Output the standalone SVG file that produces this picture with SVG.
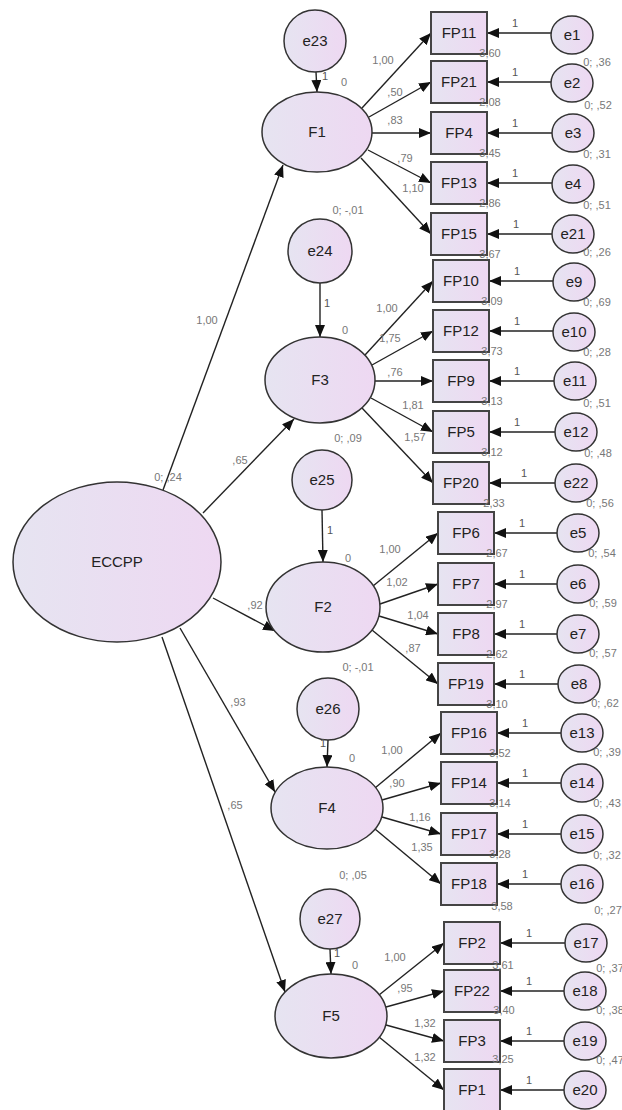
<svg xmlns="http://www.w3.org/2000/svg" width="622" height="1110" viewBox="0 0 622 1110">
<defs>
<linearGradient id="g" x1="0" y1="0" x2="1" y2="0">
<stop offset="0" stop-color="#e6e4f1"/>
<stop offset="1" stop-color="#eed8f2"/>
</linearGradient>
<marker id="ah" viewBox="0 0 12 10" refX="12" refY="5" markerWidth="12" markerHeight="10" markerUnits="userSpaceOnUse" orient="auto">
<path d="M0,0 L12,5 L0,10 z" fill="#111"/>
</marker>
</defs>
<style>
.n ellipse,.n circle{fill:url(#g);stroke:#333;stroke-width:1.5}
.n rect{fill:url(#g);stroke:#444;stroke-width:2}
.n text{font-family:"Liberation Sans",Arial,sans-serif;font-size:15px;fill:#222;text-anchor:middle}
.c line{stroke:#222;stroke-width:1.4;marker-end:url(#ah)}
.l text{font-family:"Liberation Sans",Arial,sans-serif;font-size:11px;fill:#777;text-anchor:middle}
.l text.k{fill:#555}
</style>
<rect width="622" height="1110" fill="#fff"/>

<g id="connectors" class="c">
<line x1="163" y1="490" x2="283" y2="165"/>
<line x1="203" y1="513" x2="294" y2="419"/>
<line x1="213" y1="598" x2="275" y2="631"/>
<line x1="180" y1="628" x2="275" y2="792"/>
<line x1="162" y1="637" x2="285" y2="992"/>
<line x1="316" y1="72" x2="317" y2="92"/>
<line x1="320" y1="283" x2="320" y2="337"/>
<line x1="322" y1="510" x2="323" y2="562"/>
<line x1="328" y1="740" x2="327" y2="767"/>
<line x1="330" y1="949" x2="331" y2="974"/>
<line x1="362" y1="108" x2="431" y2="33"/>
<line x1="369" y1="117" x2="431" y2="82"/>
<line x1="372" y1="133" x2="431" y2="133"/>
<line x1="368" y1="150" x2="431" y2="183"/>
<line x1="361" y1="158" x2="431" y2="234"/>
<line x1="365" y1="355" x2="433" y2="281"/>
<line x1="372" y1="365" x2="433" y2="331"/>
<line x1="375" y1="381" x2="433" y2="381"/>
<line x1="371" y1="398" x2="433" y2="432"/>
<line x1="362" y1="408" x2="433" y2="483"/>
<line x1="373" y1="586" x2="438" y2="533"/>
<line x1="380" y1="604" x2="438" y2="584"/>
<line x1="379" y1="616" x2="438" y2="634"/>
<line x1="372" y1="630" x2="438" y2="684"/>
<line x1="375" y1="788" x2="441" y2="733"/>
<line x1="382" y1="800" x2="441" y2="783"/>
<line x1="382" y1="817" x2="441" y2="834"/>
<line x1="375" y1="829" x2="441" y2="884"/>
<line x1="379" y1="995" x2="444" y2="943"/>
<line x1="386" y1="1007" x2="444" y2="991"/>
<line x1="386" y1="1025" x2="444" y2="1041"/>
<line x1="379" y1="1037" x2="444" y2="1090"/>
<line x1="551" y1="33" x2="487" y2="33"/>
<line x1="551" y1="82" x2="487" y2="82"/>
<line x1="552" y1="133" x2="487" y2="133"/>
<line x1="552" y1="183" x2="487" y2="183"/>
<line x1="552" y1="234" x2="487" y2="234"/>
<line x1="553" y1="281" x2="489" y2="281"/>
<line x1="553" y1="331" x2="489" y2="331"/>
<line x1="554" y1="381" x2="489" y2="381"/>
<line x1="555" y1="432" x2="489" y2="432"/>
<line x1="555" y1="483" x2="489" y2="483"/>
<line x1="557" y1="533" x2="494" y2="533"/>
<line x1="557" y1="584" x2="494" y2="584"/>
<line x1="557" y1="634" x2="494" y2="634"/>
<line x1="558" y1="684" x2="494" y2="684"/>
<line x1="561" y1="733" x2="497" y2="733"/>
<line x1="561" y1="783" x2="497" y2="783"/>
<line x1="561" y1="834" x2="497" y2="834"/>
<line x1="561" y1="884" x2="497" y2="884"/>
<line x1="565" y1="943" x2="500" y2="943"/>
<line x1="564" y1="991" x2="500" y2="991"/>
<line x1="564" y1="1041" x2="500" y2="1041"/>
<line x1="564" y1="1090" x2="500" y2="1090"/>
</g>

<g id="ECCPP" class="n"><ellipse cx="117" cy="562" rx="104" ry="80"/><text x="117" y="567">ECCPP</text></g>
<g id="F1" class="n"><ellipse cx="317" cy="132" rx="55" ry="40"/><text x="317" y="137">F1</text></g>
<g id="F3" class="n"><ellipse cx="320" cy="380" rx="55" ry="43"/><text x="320" y="385">F3</text></g>
<g id="F2" class="n"><ellipse cx="323" cy="607" rx="57" ry="45"/><text x="323" y="612">F2</text></g>
<g id="F4" class="n"><ellipse cx="327" cy="808" rx="56" ry="41"/><text x="327" y="813">F4</text></g>
<g id="F5" class="n"><ellipse cx="331" cy="1016" rx="56" ry="42"/><text x="331" y="1021">F5</text></g>
<g id="e23" class="n"><circle cx="315" cy="41" r="31"/><text x="315" y="46">e23</text></g>
<g id="e24" class="n"><circle cx="320" cy="251" r="32"/><text x="320" y="256">e24</text></g>
<g id="e25" class="n"><circle cx="322" cy="480" r="30"/><text x="322" y="485">e25</text></g>
<g id="e26" class="n"><circle cx="328" cy="709" r="31"/><text x="328" y="714">e26</text></g>
<g id="e27" class="n"><circle cx="330" cy="919" r="30"/><text x="330" y="924">e27</text></g>

<g id="FP11" class="n"><rect x="431" y="12" width="56" height="42"/><text x="459" y="38">FP11</text></g>
<g id="FP21" class="n"><rect x="431" y="61" width="56" height="42"/><text x="459" y="87">FP21</text></g>
<g id="FP4" class="n"><rect x="431" y="112" width="56" height="42"/><text x="459" y="138">FP4</text></g>
<g id="FP13" class="n"><rect x="431" y="162" width="56" height="42"/><text x="459" y="188">FP13</text></g>
<g id="FP15" class="n"><rect x="431" y="213" width="56" height="42"/><text x="459" y="239">FP15</text></g>
<g id="FP10" class="n"><rect x="433" y="260" width="56" height="42"/><text x="461" y="286">FP10</text></g>
<g id="FP12" class="n"><rect x="433" y="310" width="56" height="42"/><text x="461" y="336">FP12</text></g>
<g id="FP9" class="n"><rect x="433" y="360" width="56" height="42"/><text x="461" y="386">FP9</text></g>
<g id="FP5" class="n"><rect x="433" y="411" width="56" height="42"/><text x="461" y="437">FP5</text></g>
<g id="FP20" class="n"><rect x="433" y="462" width="56" height="42"/><text x="461" y="488">FP20</text></g>
<g id="FP6" class="n"><rect x="438" y="512" width="56" height="42"/><text x="466" y="538">FP6</text></g>
<g id="FP7" class="n"><rect x="438" y="563" width="56" height="42"/><text x="466" y="589">FP7</text></g>
<g id="FP8" class="n"><rect x="438" y="613" width="56" height="42"/><text x="466" y="639">FP8</text></g>
<g id="FP19" class="n"><rect x="438" y="663" width="56" height="42"/><text x="466" y="689">FP19</text></g>
<g id="FP16" class="n"><rect x="441" y="712" width="56" height="42"/><text x="469" y="738">FP16</text></g>
<g id="FP14" class="n"><rect x="441" y="762" width="56" height="42"/><text x="469" y="788">FP14</text></g>
<g id="FP17" class="n"><rect x="441" y="813" width="56" height="42"/><text x="469" y="839">FP17</text></g>
<g id="FP18" class="n"><rect x="441" y="863" width="56" height="42"/><text x="469" y="889">FP18</text></g>
<g id="FP2" class="n"><rect x="444" y="922" width="56" height="42"/><text x="472" y="948">FP2</text></g>
<g id="FP22" class="n"><rect x="444" y="970" width="56" height="42"/><text x="472" y="996">FP22</text></g>
<g id="FP3" class="n"><rect x="444" y="1020" width="56" height="42"/><text x="472" y="1046">FP3</text></g>
<g id="FP1" class="n"><rect x="444" y="1069" width="56" height="42"/><text x="472" y="1095">FP1</text></g>

<g id="e1" class="n"><ellipse cx="572" cy="35" rx="21" ry="19"/><text x="572" y="40">e1</text></g>
<g id="e2" class="n"><ellipse cx="572" cy="83" rx="21" ry="19"/><text x="572" y="88">e2</text></g>
<g id="e3" class="n"><ellipse cx="573" cy="133" rx="21" ry="19"/><text x="573" y="138">e3</text></g>
<g id="e4" class="n"><ellipse cx="573" cy="184" rx="21" ry="19"/><text x="573" y="189">e4</text></g>
<g id="e21" class="n"><ellipse cx="573" cy="234" rx="21" ry="19"/><text x="573" y="239">e21</text></g>
<g id="e9" class="n"><ellipse cx="574" cy="282" rx="21" ry="19"/><text x="574" y="287">e9</text></g>
<g id="e10" class="n"><ellipse cx="574" cy="332" rx="21" ry="19"/><text x="574" y="337">e10</text></g>
<g id="e11" class="n"><ellipse cx="575" cy="381" rx="21" ry="19"/><text x="575" y="386">e11</text></g>
<g id="e12" class="n"><ellipse cx="576" cy="432" rx="21" ry="19"/><text x="576" y="437">e12</text></g>
<g id="e22" class="n"><ellipse cx="576" cy="483" rx="21" ry="19"/><text x="576" y="488">e22</text></g>
<g id="e5" class="n"><ellipse cx="578" cy="533" rx="21" ry="19"/><text x="578" y="538">e5</text></g>
<g id="e6" class="n"><ellipse cx="578" cy="584" rx="21" ry="19"/><text x="578" y="589">e6</text></g>
<g id="e7" class="n"><ellipse cx="578" cy="634" rx="21" ry="19"/><text x="578" y="639">e7</text></g>
<g id="e8" class="n"><ellipse cx="579" cy="684" rx="21" ry="19"/><text x="579" y="689">e8</text></g>
<g id="e13" class="n"><ellipse cx="582" cy="733" rx="21" ry="19"/><text x="582" y="738">e13</text></g>
<g id="e14" class="n"><ellipse cx="582" cy="783" rx="21" ry="19"/><text x="582" y="788">e14</text></g>
<g id="e15" class="n"><ellipse cx="582" cy="834" rx="21" ry="19"/><text x="582" y="839">e15</text></g>
<g id="e16" class="n"><ellipse cx="582" cy="884" rx="21" ry="19"/><text x="582" y="889">e16</text></g>
<g id="e17" class="n"><ellipse cx="586" cy="943" rx="21" ry="19"/><text x="586" y="948">e17</text></g>
<g id="e18" class="n"><ellipse cx="585" cy="991" rx="21" ry="19"/><text x="585" y="996">e18</text></g>
<g id="e19" class="n"><ellipse cx="585" cy="1041" rx="21" ry="19"/><text x="585" y="1046">e19</text></g>
<g id="e20" class="n"><ellipse cx="585" cy="1090" rx="21" ry="19"/><text x="585" y="1095">e20</text></g>

<g id="labels" class="l">
<text x="168" y="481">0; ,24</text>
<text x="207" y="324">1,00</text>
<text x="240" y="464">,65</text>
<text x="255" y="609">,92</text>
<text x="238" y="706">,93</text>
<text x="235" y="809">,65</text>
<text x="383" y="64">1,00</text>
<text x="395" y="96">,50</text>
<text x="395" y="124">,83</text>
<text x="405" y="162">,79</text>
<text x="413" y="192">1,10</text>
<text x="387" y="312">1,00</text>
<text x="390" y="342">1,75</text>
<text x="395" y="376">,76</text>
<text x="413" y="409">1,81</text>
<text x="415" y="441">1,57</text>
<text x="390" y="553">1,00</text>
<text x="397" y="586">1,02</text>
<text x="418" y="619">1,04</text>
<text x="413" y="652">,87</text>
<text x="392" y="754">1,00</text>
<text x="397" y="787">,90</text>
<text x="420" y="821">1,16</text>
<text x="422" y="851">1,35</text>
<text x="395" y="961">1,00</text>
<text x="405" y="992">,95</text>
<text x="425" y="1027">1,32</text>
<text x="425" y="1061">1,32</text>
<text x="344" y="86">0</text>
<text x="345" y="334">0</text>
<text x="348" y="562">0</text>
<text x="352" y="762">0</text>
<text x="355" y="969">0</text>
<text class="k" x="325" y="80">1</text>
<text class="k" x="327" y="307">1</text>
<text class="k" x="330" y="534">1</text>
<text class="k" x="323" y="747">1</text>
<text class="k" x="337" y="957">1</text>
<text x="348" y="214">0; -,01</text>
<text x="348" y="442">0; ,09</text>
<text x="358" y="671">0; -,01</text>
<text x="353" y="879">0; ,05</text>
<text x="490" y="57">3,60</text>
<text x="490" y="106">2,08</text>
<text x="490" y="157">3,45</text>
<text x="490" y="207">2,86</text>
<text x="490" y="258">3,67</text>
<text x="492" y="305">3,09</text>
<text x="492" y="355">3,73</text>
<text x="492" y="405">3,13</text>
<text x="492" y="456">3,12</text>
<text x="494" y="507">2,33</text>
<text x="497" y="557">2,67</text>
<text x="497" y="608">2,97</text>
<text x="497" y="658">2,62</text>
<text x="497" y="708">3,10</text>
<text x="500" y="757">3,52</text>
<text x="500" y="807">3,14</text>
<text x="500" y="858">3,28</text>
<text x="502" y="910">3,58</text>
<text x="503" y="969">3,61</text>
<text x="504" y="1014">3,40</text>
<text x="503" y="1063">3,25</text>
<text class="k" x="515" y="27">1</text>
<text class="k" x="515" y="76">1</text>
<text class="k" x="515" y="127">1</text>
<text class="k" x="515" y="177">1</text>
<text class="k" x="516" y="228">1</text>
<text class="k" x="517" y="275">1</text>
<text class="k" x="517" y="325">1</text>
<text class="k" x="517" y="375">1</text>
<text class="k" x="517" y="426">1</text>
<text class="k" x="524" y="477">1</text>
<text class="k" x="522" y="527">1</text>
<text class="k" x="522" y="578">1</text>
<text class="k" x="522" y="628">1</text>
<text class="k" x="522" y="678">1</text>
<text class="k" x="525" y="727">1</text>
<text class="k" x="525" y="777">1</text>
<text class="k" x="525" y="828">1</text>
<text class="k" x="525" y="878">1</text>
<text class="k" x="529" y="937">1</text>
<text class="k" x="529" y="985">1</text>
<text class="k" x="529" y="1035">1</text>
<text class="k" x="529" y="1084">1</text>
<text x="597" y="66">0; ,36</text>
<text x="598" y="109">0; ,52</text>
<text x="597" y="158">0; ,31</text>
<text x="597" y="209">0; ,51</text>
<text x="597" y="256">0; ,26</text>
<text x="597" y="306">0; ,69</text>
<text x="597" y="356">0; ,28</text>
<text x="597" y="407">0; ,51</text>
<text x="598" y="457">0; ,48</text>
<text x="600" y="507">0; ,56</text>
<text x="602" y="557">0; ,54</text>
<text x="603" y="607">0; ,59</text>
<text x="603" y="657">0; ,57</text>
<text x="605" y="707">0; ,62</text>
<text x="607" y="756">0; ,39</text>
<text x="607" y="807">0; ,43</text>
<text x="607" y="859">0; ,32</text>
<text x="608" y="914">0; ,27</text>
<text x="610" y="972">0; ,37</text>
<text x="610" y="1014">0; ,38</text>
<text x="610" y="1064">0; ,47</text>
</g>
</svg>
